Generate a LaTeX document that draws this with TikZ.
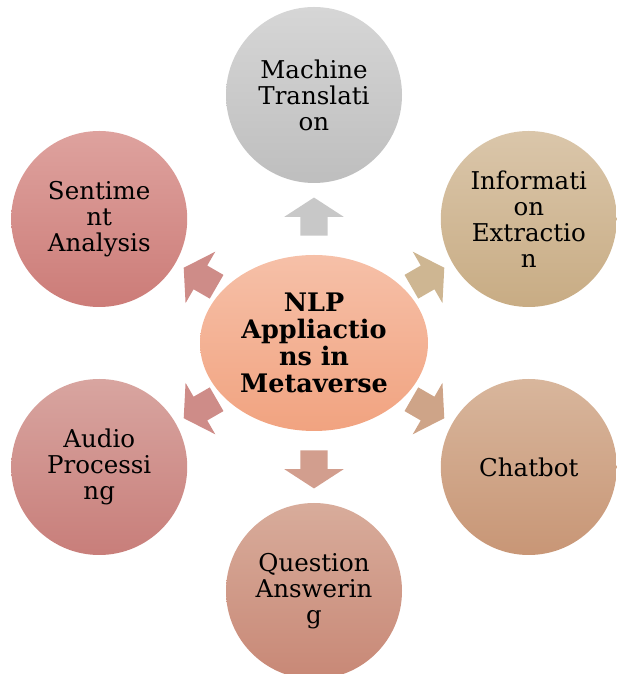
\documentclass[tikz,border=0pt]{standalone}
\usepackage{fontspec}
\setmainfont{DejaVu Serif}
\usetikzlibrary{shapes.arrows,shapes.geometric,calc}
\definecolor{mtT}{RGB}{214,214,214}\definecolor{mtB}{RGB}{190,190,190}
\definecolor{ieT}{RGB}{218,198,170}\definecolor{ieB}{RGB}{200,172,132}
\definecolor{cbT}{RGB}{216,182,156}\definecolor{cbB}{RGB}{200,150,118}
\definecolor{qaT}{RGB}{216,172,155}\definecolor{qaB}{RGB}{200,136,118}
\definecolor{apT}{RGB}{216,165,160}\definecolor{apB}{RGB}{200,126,122}
\definecolor{saT}{RGB}{222,162,158}\definecolor{saB}{RGB}{204,124,120}
\definecolor{ctT}{RGB}{246,192,168}\definecolor{ctB}{RGB}{241,163,128}
\definecolor{arMT}{RGB}{200,200,200}
\definecolor{arIE}{RGB}{206,182,146}
\definecolor{arCB}{RGB}{206,164,136}
\definecolor{arQA}{RGB}{210,158,142}
\definecolor{arAP}{RGB}{206,140,136}
\definecolor{arSA}{RGB}{206,140,136}
\tikzset{
  sat/.style={circle, minimum size=176pt, inner sep=0pt, align=center,
    font=\fontsize{24.5}{26}\selectfont},
  hub/.style={ellipse, minimum width=228pt, minimum height=176pt, inner sep=0pt, align=center,
    font=\bfseries\fontsize{25.5}{27}\selectfont, top color=ctT, bottom color=ctB},
  blk/.style={single arrow, draw=none, inner xsep=0pt, inner ysep=13.5pt, minimum width=59pt, minimum height=38pt,
    single arrow head extend=16pt, single arrow tip angle=114}
}
\begin{document}
\begin{tikzpicture}[x=1pt,y=1pt]
\useasboundingbox (0,0) rectangle (617,674);
\coordinate (c) at (314,331);
\node[hub] (hub) at (c) {NLP\\Appliactio\\ns in\\Metaverse};
\node[sat, top color=mtT, bottom color=mtB] (mt) at ($(c)+(90:248)$) {Machine\\Translati\\on};
\node[sat, top color=ieT, bottom color=ieB] (ie) at ($(c)+(30:248)$) {Informati\\on\\Extractio\\n};
\node[sat, top color=cbT, bottom color=cbB] (cb) at ($(c)+(-30:248)$) {Chatbot};
\node[sat, top color=qaT, bottom color=qaB] (qa) at ($(c)+(-90:248)$) {Question\\Answerin\\g};
\node[sat, top color=apT, bottom color=apB] (ap) at ($(c)+(-150:248)$) {Audio\\Processi\\ng};
\node[sat, top color=saT, bottom color=saB] (sa) at ($(c)+(150:248)$) {Sentime\\nt\\Analysis};
\node[blk, fill=arMT, rotate=90] (a1) at ($(c)+(90:122)$) {};
\node[blk, fill=arIE, rotate=30] (a2) at ($(c)+(30:127)$) {};
\node[blk, fill=arCB, rotate=-30] (a3) at ($(c)+(-30:127)$) {};
\node[blk, fill=arQA, rotate=-90] (a4) at ($(c)+(-90:122)$) {};
\node[blk, fill=arAP, rotate=-150] (a5) at ($(c)+(-150:127)$) {};
\node[blk, fill=arSA, rotate=150] (a6) at ($(c)+(150:127)$) {};
\end{tikzpicture}
\end{document}
